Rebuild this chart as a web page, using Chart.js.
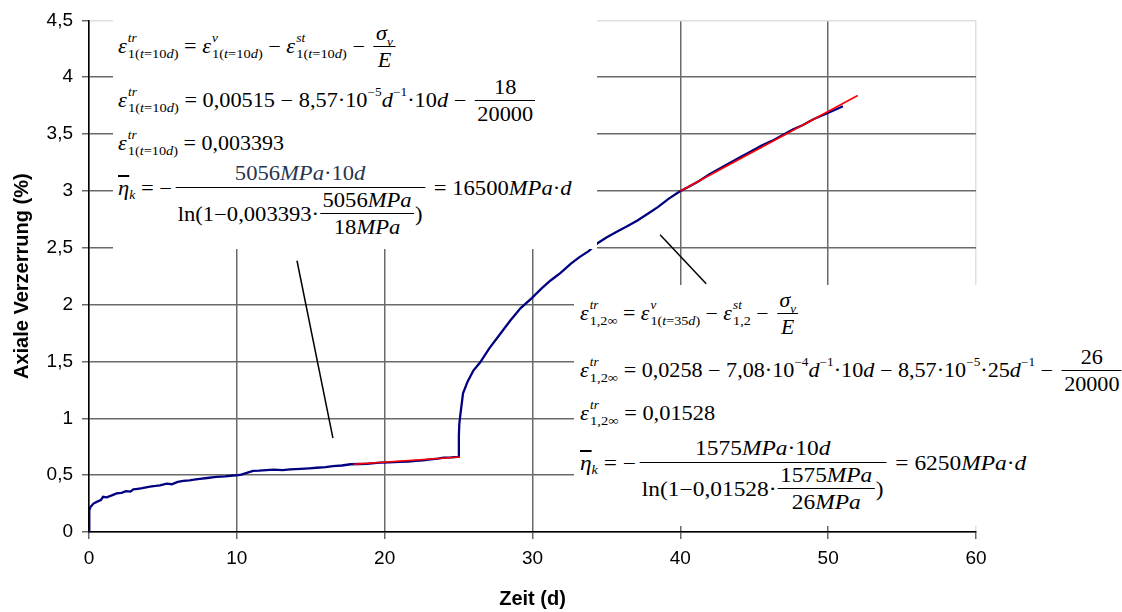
<!DOCTYPE html>
<html>
<head>
<meta charset="utf-8">
<script src="https://cdn.jsdelivr.net/npm/chart.js@4/dist/chart.umd.min.js"></script>
<style>
html,body{margin:0;padding:0;background:#fff;}
#wrap{position:relative;width:1122px;height:612px;overflow:hidden;}
canvas{position:absolute;left:0;top:0;}
.box{position:absolute;background:#fff;}
.m{position:absolute;font-family:'Liberation Serif','Times New Roman',serif;font-size:20px;color:#000;white-space:nowrap;line-height:1;display:flex;align-items:center;transform-origin:0 50%;}
.i{font-style:italic;}
.ss{display:inline-flex;flex-direction:column;font-size:12px;line-height:15px;margin-left:1px;align-self:center;}
.ss>span{display:block;}
.ss>span:last-child{font-size:13px;}
.fr{display:inline-flex;flex-direction:column;text-align:center;margin:0 3px;}
.fr>span{display:block;padding:1px 2px;}
.fr>span:first-child{border-bottom:1px solid #000;padding-bottom:3px;}
.fr>span:last-child{padding-top:3px;}
.big>span.num{height:50px;display:flex;align-items:flex-end;justify-content:center;padding:0 2px 4px 2px;box-sizing:border-box;}
.big>span.den{height:50px;display:flex;align-items:flex-start;justify-content:center;padding:1px 2px 0 2px;box-sizing:border-box;}
.op{margin:0 5px;}
.sup{font-size:12px;position:relative;top:-8px;}
.sub{font-size:12px;position:relative;top:6px;}
.ov{text-decoration:overline;}
</style>
</head>
<body>
<div id="wrap">
<canvas id="c" width="1122" height="612"></canvas>

<div class="box" style="left:113px;top:14px;width:484px;height:235px;"></div>
<div class="box" style="left:574px;top:285px;width:548px;height:241px;"></div>

<!-- Box 1 -->
<div class="m" style="left:118px;top:26px;height:40px;transform:scaleX(1.11);">
<span class="i">ε</span><span class="ss"><span class="i">tr</span><span>1(<span class="i">t</span>=10<span class="i">d</span>)</span></span>
<span class="op">=</span><span class="i">ε</span><span class="ss"><span class="i">v</span><span>1(<span class="i">t</span>=10<span class="i">d</span>)</span></span>
<span class="op">−</span><span class="i">ε</span><span class="ss"><span class="i">st</span><span>1(<span class="i">t</span>=10<span class="i">d</span>)</span></span>
<span class="op">−</span><span class="fr"><span class="i">σ<span class="sub">v</span></span><span class="i">E</span></span>
</div>
<div class="m" style="left:118px;top:79px;height:42px;transform:scaleX(1.115);">
<span class="i">ε</span><span class="ss"><span class="i">tr</span><span>1(<span class="i">t</span>=10<span class="i">d</span>)</span></span>
<span class="op">=</span>0,00515<span class="op">−</span>8,57·10<span class="sup">−5</span><span class="i">d</span><span class="sup">−1</span>·10<span class="i">d</span><span class="op">−</span><span class="fr"><span>18</span><span>20000</span></span>
</div>
<div class="m" style="left:118px;top:128px;height:30px;transform:scaleX(1.1);">
<span class="i">ε</span><span class="ss"><span class="i">tr</span><span>1(<span class="i">t</span>=10<span class="i">d</span>)</span></span>
<span class="op">=</span>0,003393
</div>
<div class="m" style="left:118px;top:138px;height:100px;transform:scaleX(1.13);">
<span class="i ov">η</span><span class="sub i" style="top:7px">k</span>
<span class="op">=</span>−<span class="fr big"><span class="num" style="color:#2a3550">5056<span class="i">MPa</span>·10<span class="i">d</span></span><span class="den"><span style="display:flex;align-items:center;">ln(1−0,003393·<span class="fr" style="margin:0 1px"><span>5056<span class="i">MPa</span></span><span>18<span class="i">MPa</span></span></span>)</span></span></span>
<span class="op">=</span>16500<span class="i">MPa</span>·<span class="i">d</span>
</div>

<!-- Box 2 -->
<div class="m" style="left:580px;top:292px;height:42px;transform:scaleX(1.09);">
<span class="i">ε</span><span class="ss"><span class="i">tr</span><span>1,2∞</span></span>
<span class="op">=</span><span class="i">ε</span><span class="ss"><span class="i">v</span><span>1(<span class="i">t</span>=35<span class="i">d</span>)</span></span>
<span class="op">−</span><span class="i">ε</span><span class="ss"><span class="i">st</span><span>1,2</span></span>
<span class="op">−</span><span class="fr"><span class="i">σ<span class="sub">v</span></span><span class="i">E</span></span>
</div>
<div class="m" style="left:580px;top:349px;height:42px;transform:scaleX(1.107);">
<span class="i">ε</span><span class="ss"><span class="i">tr</span><span>1,2∞</span></span>
<span class="op">=</span>0,0258<span class="op">−</span>7,08·10<span class="sup">−4</span><span class="i">d</span><span class="sup">−1</span>·10<span class="i">d</span><span class="op">−</span>8,57·10<span class="sup">−5</span>·25<span class="i">d</span><span class="sup">−1</span><span class="op">−</span><span class="fr"><span>26</span><span>20000</span></span>
</div>
<div class="m" style="left:580px;top:398px;height:30px;transform:scaleX(1.12);">
<span class="i">ε</span><span class="ss"><span class="i">tr</span><span>1,2∞</span></span>
<span class="op">=</span>0,01528
</div>
<div class="m" style="left:580px;top:413px;height:100px;transform:scaleX(1.17);">
<span class="i ov">η</span><span class="sub i" style="top:7px">k</span>
<span class="op">=</span>−<span class="fr big"><span class="num">1575<span class="i">MPa</span>·10<span class="i">d</span></span><span class="den"><span style="display:flex;align-items:center;">ln(1−0,01528·<span class="fr" style="margin:0 1px"><span>1575<span class="i">MPa</span></span><span>26<span class="i">MPa</span></span></span>)</span></span></span>
<span class="op">=</span>6250<span class="i">MPa</span>·<span class="i">d</span>
</div>
</div>

<script>
// Measured creep curve (Zeit in d, axiale Verzerrung in %)
const zeit = [0,0.02,0.1,0.3,0.52,0.8,0.95,1.2,1.5,1.87,2.2,2.5,2.8,3.0,3.3,3.6,4.13,4.5,4.8,5.25,5.6,6.0,6.38,6.8,7.1,7.5,8.0,8.6,9.2,9.76,10.1,10.3,10.67,11.1,11.5,12.0,12.5,13.1,13.6,14.3,14.9,15.4,16.0,16.5,17.1,17.7,18.3,18.8,19.3,19.7,20.3,21.0,21.6,22.1,22.6,23.1,23.6,24.0,24.5,24.98,25.02,25.05,25.1,25.3,25.6,26.0,26.45,27.1,27.8,28.5,29.2,29.97,30.6,31.2,31.9,32.6,33.2,33.8,34.4,35.0,35.7,36.4,37.1,37.8,38.5,39.2,39.9,40.6,41.3,42.0,42.7,43.4,44.1,44.8,45.5,46.2,46.9,47.6,48.3,49.0,49.7,50.4,51.0];
const verzerrung = [0,0.19,0.22,0.25,0.265,0.28,0.31,0.305,0.32,0.34,0.345,0.36,0.355,0.375,0.38,0.385,0.40,0.405,0.41,0.425,0.42,0.44,0.45,0.455,0.46,0.468,0.475,0.485,0.49,0.497,0.5,0.505,0.52,0.538,0.54,0.544,0.548,0.544,0.55,0.555,0.56,0.565,0.57,0.58,0.585,0.596,0.598,0.60,0.605,0.61,0.612,0.617,0.62,0.625,0.63,0.638,0.645,0.655,0.656,0.66,0.85,0.95,1.01,1.22,1.32,1.42,1.49,1.62,1.74,1.86,1.97,2.06,2.14,2.21,2.28,2.36,2.42,2.47,2.54,2.59,2.64,2.69,2.74,2.8,2.86,2.93,2.99,3.04,3.09,3.15,3.2,3.25,3.3,3.35,3.4,3.44,3.49,3.54,3.58,3.63,3.67,3.71,3.745];
// Linear fits (red)
const fit1Zeit = [17.9, 25.1];
const fit1Werte = [0.596, 0.66];
const fit2Zeit = [40, 52];
const fit2Werte = [3.0, 3.84];
// Leader lines from formula boxes
const leader1Zeit = [14.07, 16.5];
const leader1Werte = [2.386, 0.825];
const leader2Zeit = [38.63, 41.75];
const leader2Werte = [2.614, 2.184];
// Axis tick labels
const xTicks = [0,10,20,30,40,50,60];
const yTickLabels = ['0','0,5','1','1,5','2','2,5','3','3,5','4','4,5'];

const pts = (xs, ys) => xs.map((x, i) => ({x: x, y: ys[i]}));
const lineDs = (data, color, w) => ({data, borderColor: color, borderWidth: w, showLine: true, pointRadius: 0, fill: false, tension: 0});
const gridCol = '#6a6a6a';

new Chart(document.getElementById('c'), {
  type: 'scatter',
  data: {
    datasets: [
      lineDs(pts(fit1Zeit, fit1Werte), '#ff0000', 1.6),
      lineDs(pts(fit2Zeit, fit2Werte), '#ff0000', 1.6),
      lineDs(pts(leader1Zeit, leader1Werte), '#000000', 1.5),
      lineDs(pts(leader2Zeit, leader2Werte), '#000000', 1.5),
      lineDs(pts(zeit, verzerrung), '#000080', 2.3)
    ]
  },
  options: {
    responsive: false,
    animation: false,
    layout: {padding: {top: 19, right: 146, left: 0, bottom: 0}},
    plugins: {legend: {display: false}, tooltip: {enabled: false}},
    scales: {
      x: {
        type: 'linear', min: 0, max: 60,
        afterFit: s => { s.height = 80; },
        afterBuildTicks: s => { s.ticks = xTicks.map(v => ({value: v})); },
        ticks: {font: {family: 'Liberation Sans, Arial', size: 19}, color: '#000', padding: 8, maxRotation: 0},
        grid: {color: c => c.tick && c.tick.value === 60 ? '#e0e0e0' : gridCol, lineWidth: 1.5, tickLength: 7, tickColor: gridCol},
        border: {color: '#000', width: 1.5},
        title: {display: true, text: 'Zeit (d)', font: {family: 'Liberation Sans, Arial', size: 20, weight: 'bold'}, color: '#000', padding: {top: 0, bottom: 1}}
      },
      y: {
        type: 'linear', min: 0, max: 4.5,
        afterFit: s => { s.width = 89; },
        afterBuildTicks: s => { s.ticks = yTickLabels.map((t, i) => ({value: i * 0.5})); },
        ticks: {font: {family: 'Liberation Sans, Arial', size: 19}, color: '#000', padding: 9,
          callback: (v, i) => yTickLabels[i]},
        grid: {color: c => c.tick && c.tick.value === 4.5 ? '#e0e0e0' : gridCol, lineWidth: 1.5, tickLength: 7, tickColor: gridCol},
        border: {color: '#000', width: 1.5},
        title: {display: true, text: 'Axiale Verzerrung (%)', font: {family: 'Liberation Sans, Arial', size: 20, weight: 'bold'}, color: '#000', padding: {top: 10, bottom: 0}}
      }
    }
  }
});
</script>
</body>
</html>
